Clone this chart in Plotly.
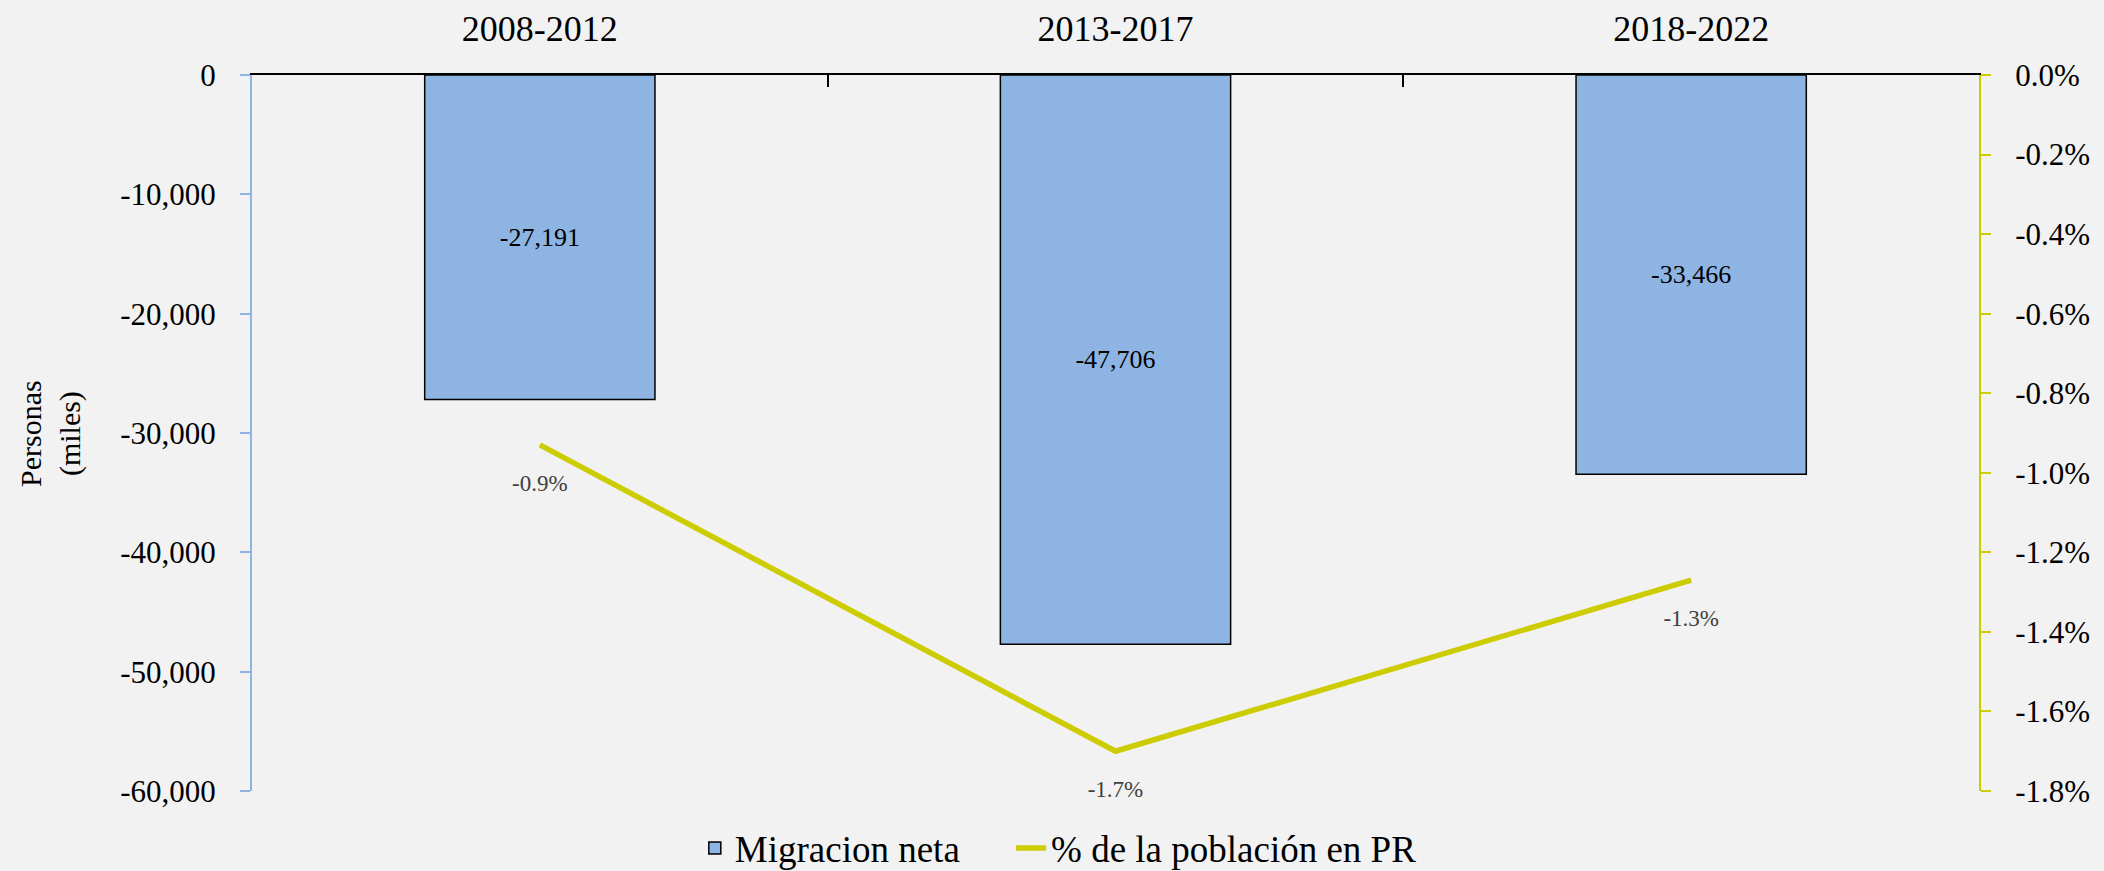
import plotly.graph_objects as go

# Periodos y datos
periodos = ["2008-2012", "2013-2017", "2018-2022"]
migracion_neta = [-27191, -47706, -33466]
pct_poblacion = [-0.93, -1.70, -1.27]

y_left_ticks = [0, -10000, -20000, -30000, -40000, -50000, -60000]
y_right_ticks = [0, -0.2, -0.4, -0.6, -0.8, -1.0, -1.2, -1.4, -1.6, -1.8]

FONT = "Liberation Serif, Times New Roman, serif"
BAR_COLOR = "#8EB4E3"
LINE_COLOR = "#CCCC00"

fig = go.Figure()

# Barras: migracion neta
fig.add_trace(go.Bar(
    x=periodos,
    y=migracion_neta,
    name="Migracion neta\u00a0\u00a0\u00a0\u00a0\u00a0",
    width=0.4,
    marker=dict(color=BAR_COLOR, line=dict(color="black", width=1.5)),
    text=[f"{v:,}" for v in migracion_neta],
    textposition="inside",
    insidetextanchor="middle",
    textangle=0,
    textfont=dict(family=FONT, size=26, color="black"),
))

# Linea: % de la poblacion
fig.add_trace(go.Scatter(
    x=periodos,
    y=pct_poblacion,
    name="% de la población en PR",
    yaxis="y2",
    mode="lines+markers+text",
    line=dict(color=LINE_COLOR, width=5.5),
    marker=dict(size=44, color="rgba(0,0,0,0)"),
    text=[f"{v:.1f}%" for v in pct_poblacion],
    textposition="bottom center",
    textfont=dict(family=FONT, size=23, color="#404040"),
    cliponaxis=False,
))

fig.update_layout(
    width=2104,
    height=871,
    margin=dict(l=252, r=125, t=75, b=80, autoexpand=False),
    paper_bgcolor="#F2F2F2",
    plot_bgcolor="#F2F2F2",
    font=dict(family=FONT, size=31, color="black"),
    showlegend=True,
    legend=dict(
        orientation="h",
        xref="container", yref="container",
        x=0.503, y=0.026,
        xanchor="center", yanchor="middle",
        font=dict(family=FONT, size=37),
        bgcolor="rgba(0,0,0,0)",
        traceorder="normal",
    ),
    xaxis=dict(
        type="category",
        side="top",
        showline=True,
        linecolor="black",
        linewidth=2,
        ticks="inside",
        tickson="boundaries",
        ticklen=12,
        tickwidth=2,
        tickcolor="black",
        ticklabelstandoff=18,
        automargin=False,
        showgrid=False,
        tickfont=dict(family=FONT, size=36),
    ),
    yaxis=dict(
        range=[-60000, 0],
        tickvals=y_left_ticks,
        ticktext=[f"{v:,}" for v in y_left_ticks],
        showline=True,
        linecolor="#8DB4E2",
        linewidth=2,
        ticks="outside",
        ticklen=10,
        tickwidth=2,
        tickcolor="#8DB4E2",
        ticklabelstandoff=18,
        automargin=False,
        showgrid=False,
        zeroline=False,
        tickfont=dict(family=FONT, size=31),
    ),
    yaxis2=dict(
        overlaying="y",
        side="right",
        range=[-1.8, 0],
        tickvals=y_right_ticks,
        ticktext=[f"{v:.1f}%" for v in y_right_ticks],
        showline=True,
        linecolor=LINE_COLOR,
        linewidth=2,
        ticks="outside",
        ticklen=10,
        tickwidth=2,
        tickcolor=LINE_COLOR,
        ticklabelstandoff=18,
        automargin=False,
        showgrid=False,
        zeroline=False,
        tickfont=dict(family=FONT, size=31),
    ),
    annotations=[dict(
        text="Personas<br>(miles)",
        xref="paper", yref="paper",
        x=-0.117, y=0.5,
        xanchor="center", yanchor="middle",
        textangle=-90,
        showarrow=False,
        font=dict(family=FONT, size=30),
    )],
)

fig.write_html(
    "out.html",
    config={"displayModeBar": False},
    post_script="document.body.style.margin='0';document.body.style.overflow='hidden';",
)
